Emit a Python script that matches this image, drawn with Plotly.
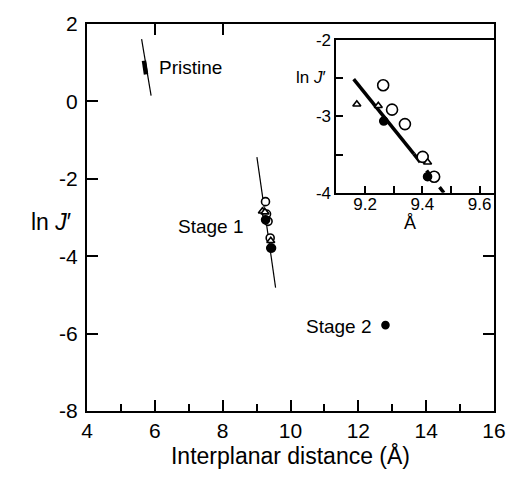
import plotly.graph_objects as go

# ---- data -------------------------------------------------------------
# Stage 1 measurements (open circles, open triangles, filled circles)
s1_circle_x = [9.263, 9.294, 9.339, 9.401, 9.441]
s1_circle_y = [-2.59, -2.91, -3.10, -3.53, -3.79]
s1_tri_x = [9.171, 9.246, 9.418]
s1_tri_y = [-2.84, -2.86, -3.60]
s1_fill_x = [9.265, 9.418]
s1_fill_y = [-3.06, -3.79]

# Stage 2 measurement
stage2_x = [12.8]
stage2_y = [-5.78]

# Fitted lines (end points)
pristine_line_x = [5.61, 5.89]
pristine_line_y = [1.61, 0.15]
pristine_band_x = [5.68, 5.74]
pristine_band_y = [1.05, 0.70]
stage1_line_x = [9.01, 9.56]
stage1_line_y = [-1.44, -4.81]
inset_solid_x = [9.16, 9.37]
inset_solid_y = [-2.51, -3.49]
inset_dash_x = [9.37, 9.475]
inset_dash_y = [-3.49, -4.00]

# Axis ticks
x_major = [4, 6, 8, 10, 12, 14, 16]
y_major = [2, 0, -2, -4, -6, -8]
y_major_text = ["2", "0", "-2", "-4", "-6", "-8"]
top_ticks = [6, 8]
right_ticks = [-2, -4, -6]
inset_x_ticks = [9.2, 9.3, 9.4, 9.5, 9.6]
inset_x_text = ["9.2", "", "9.4", "", "9.6"]
inset_y_ticks = [-2, -2.5, -3, -3.5, -4]
inset_y_text = ["-2", "", "-3", "", "-4"]

FONT = "Liberation Sans"
BLACK = "black"

fig = go.Figure()


def add_line(x, y, axes=("x", "y"), width=1.2, dash="solid"):
    fig.add_trace(go.Scatter(x=x, y=y, mode="lines", xaxis=axes[0], yaxis=axes[1],
                             line=dict(color=BLACK, width=width, dash=dash),
                             showlegend=False, hoverinfo="skip"))


def add_markers(x, y, symbol, size, filled, axes=("x", "y")):
    fig.add_trace(go.Scatter(
        x=x, y=y, mode="markers", xaxis=axes[0], yaxis=axes[1],
        marker=dict(symbol=symbol, size=size,
                    color=BLACK if filled else "white",
                    line=dict(color=BLACK, width=1.6)),
        showlegend=False))


# main panel
add_line(pristine_line_x, pristine_line_y, width=1.2)
add_line(pristine_band_x, pristine_band_y, width=4.5)
add_line(stage1_line_x, stage1_line_y, width=1.2)
add_markers(s1_circle_x, s1_circle_y, "circle", 8, False)
add_markers(s1_tri_x, s1_tri_y, "triangle-up", 7, False)
add_markers(s1_fill_x, s1_fill_y, "circle", 8, True)
add_markers(stage2_x, stage2_y, "circle", 7, True)

# inset panel
ins = ("x2", "y2")
add_line(inset_solid_x, inset_solid_y, axes=ins, width=3.5)
add_line(inset_dash_x, inset_dash_y, axes=ins, width=3.5, dash="dash")
add_markers(s1_circle_x, s1_circle_y, "circle", 11, False, axes=ins)
add_markers(s1_tri_x, s1_tri_y, "triangle-up", 7, False, axes=ins)
add_markers(s1_fill_x, s1_fill_y, "circle", 8, True, axes=ins)

# placeholder traces so the tick-only top/right axes get drawn
fig.add_trace(go.Scatter(x=[None], y=[None], xaxis="x3", yaxis="y", showlegend=False))
fig.add_trace(go.Scatter(x=[None], y=[None], xaxis="x", yaxis="y3", showlegend=False))

tick_font = dict(family=FONT, size=21, color=BLACK)
inset_font = dict(family=FONT, size=17, color=BLACK)

fig.update_layout(
    width=518, height=477,
    margin=dict(l=87, r=15, t=15, b=61),
    paper_bgcolor="white", plot_bgcolor="white",
    font=dict(family=FONT, color=BLACK),
    xaxis=dict(range=[4, 16], tickvals=x_major, ticks="inside", ticklen=11,
               tickwidth=1.5, tickcolor=BLACK,
               minor=dict(dtick=1, tick0=4, ticks="inside", ticklen=7,
                          tickwidth=1.5, tickcolor=BLACK),
               showline=True, linewidth=2, linecolor=BLACK, mirror=True,
               showgrid=False, zeroline=False, tickfont=tick_font,
               title=dict(text="Interplanar distance (Å)",
                          font=dict(family=FONT, size=23, color=BLACK),
                          standoff=7)),
    yaxis=dict(range=[-8, 2], tickvals=y_major, ticktext=y_major_text,
               ticks="inside", ticklen=11, tickwidth=1.5, tickcolor=BLACK,
               showline=True, linewidth=2, linecolor=BLACK, mirror=True,
               showgrid=False, zeroline=False, tickfont=tick_font,
               ticklabelstandoff=3),
    xaxis3=dict(range=[4, 16], overlaying="x", side="top", tickvals=top_ticks,
                ticks="inside", ticklen=11, tickwidth=1.5, tickcolor=BLACK,
                showticklabels=False, showline=False, showgrid=False,
                zeroline=False),
    yaxis3=dict(range=[-8, 2], overlaying="y", side="right", tickvals=right_ticks,
                ticks="inside", ticklen=11, tickwidth=1.5, tickcolor=BLACK,
                showticklabels=False, showline=False, showgrid=False,
                zeroline=False),
    xaxis2=dict(domain=[0.613, 1.0], anchor="y2", range=[9.1, 9.65],
                tickvals=inset_x_ticks, ticktext=inset_x_text,
                ticks="inside", ticklen=7, tickwidth=1.5, tickcolor=BLACK,
                showline=True, linewidth=2, linecolor=BLACK, mirror=True,
                showgrid=False, zeroline=False, tickfont=inset_font,
                ticklabelstandoff=-5),
    yaxis2=dict(domain=[0.564, 0.958], anchor="x2", range=[-4, -2],
                tickvals=inset_y_ticks, ticktext=inset_y_text,
                ticks="inside", ticklen=7, tickwidth=1.5, tickcolor=BLACK,
                showline=True, linewidth=2, linecolor=BLACK, mirror=True,
                showgrid=False, zeroline=False, tickfont=inset_font),
)

label_font = dict(family=FONT, size=19, color=BLACK)
fig.add_annotation(x=6.05, y=0.88, xref="x", yref="y", text="Pristine",
                   showarrow=False, xanchor="left", yanchor="middle", font=label_font)
fig.add_annotation(x=8.70, y=-3.24, xref="x", yref="y", text="Stage 1",
                   showarrow=False, xanchor="right", yanchor="middle", font=label_font)
fig.add_annotation(x=12.45, y=-5.81, xref="x", yref="y", text="Stage 2",
                   showarrow=False, xanchor="right", yanchor="middle", font=label_font)

# y-axis title, written horizontally
fig.add_annotation(x=-0.089, y=0.489, xref="paper", yref="paper",
                   text="ln <i>J</i>′", showarrow=False, xanchor="center",
                   yanchor="middle", font=dict(family=FONT, size=23, color=BLACK))
# inset axis titles
fig.add_annotation(x=0.591, y=0.862, xref="paper", yref="paper",
                   text="ln <i>J</i>′", showarrow=False, xanchor="right",
                   yanchor="middle", font=dict(family=FONT, size=17, color=BLACK))
fig.add_annotation(x=0.794, y=0.487, xref="paper", yref="paper",
                   text="Å", showarrow=False, xanchor="center",
                   yanchor="middle", font=dict(family=FONT, size=18, color=BLACK))

fig.write_html("out.html")
